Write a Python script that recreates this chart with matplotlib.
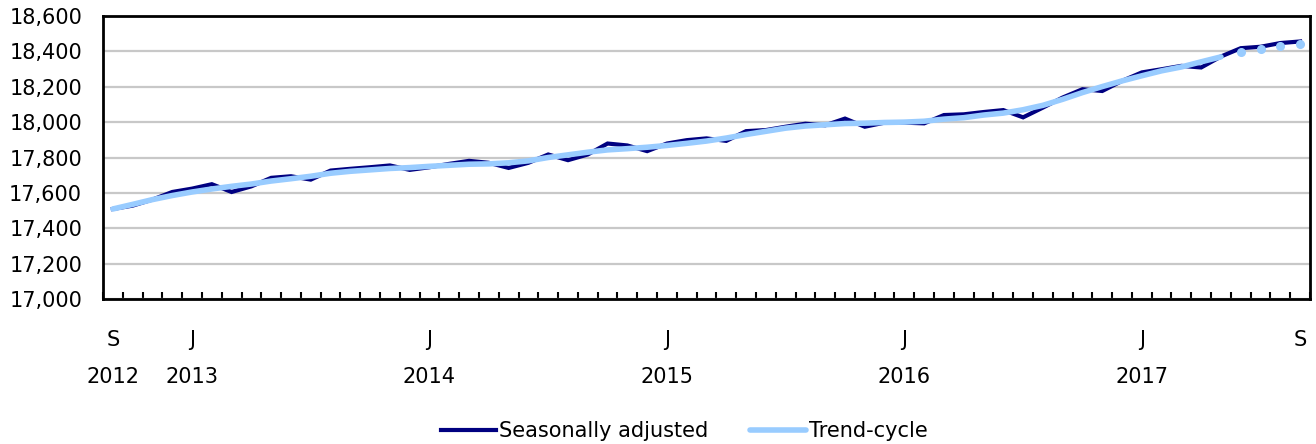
import numpy as np
from matplotlib import pyplot as plt
from matplotlib.transforms import blended_transform_factory

# monthly values, Sep 2012 .. Sep 2017
seasonally_adjusted = [17509, 17528, 17562, 17605, 17624, 17649, 17605, 17637, 17685, 17694,
                       17675, 17726, 17736, 17745, 17755, 17730, 17745, 17764, 17781, 17770,
                       17741, 17770, 17817, 17785, 17817, 17879, 17868, 17836, 17879, 17898,
                       17908, 17894, 17949, 17955, 17974, 17991, 17982, 18020, 17974, 17997,
                       17997, 17993, 18040, 18044, 18057, 18068, 18027, 18082, 18139, 18186,
                       18176, 18233, 18281, 18299, 18318, 18309, 18371, 18418, 18426, 18447,
                       18456]
trend_cycle = [17509, 17535, 17562, 17585, 17605, 17622, 17637, 17650, 17667, 17680,
               17694, 17711, 17722, 17730, 17738, 17743, 17750, 17756, 17762, 17764,
               17770, 17781, 17800, 17815, 17830, 17843, 17850, 17858, 17868, 17880,
               17893, 17910, 17930, 17948, 17966, 17978, 17985, 17992, 17994, 17998,
               18000, 18005, 18017, 18025, 18040, 18051, 18070, 18095, 18129, 18167,
               18201, 18233, 18262, 18290, 18312, 18341, 18369, 18394, 18413, 18432,
               18441]
n_provisional = 4   # last trend points shown as dots only

month_ticks = [0, 4, 16, 28, 40, 52, 60]
month_labels = ['S', 'J', 'J', 'J', 'J', 'J', 'S']
year_labels = ['2012', '2013', '2014', '2015', '2016', '2017', '']

plt.rcParams['font.family'] = ['DejaVu Sans']
plt.rcParams['font.size'] = 15

navy = '#000080'
light = '#99CCFF'

x = np.arange(len(seasonally_adjusted))
n_final = len(trend_cycle) - n_provisional

fig = plt.figure(figsize=(13.16, 4.44), dpi=100)
ax = fig.add_axes([103 / 1316, 1 - 299 / 444, (1310 - 103) / 1316, (299 - 16) / 444])

ax.plot(x, seasonally_adjusted, color=navy, lw=3.0, solid_joinstyle='miter',
        label='Seasonally adjusted', zorder=3)
ax.plot(x[:n_final], trend_cycle[:n_final], color=light, lw=4.0,
        solid_capstyle='round', label='Trend-cycle', zorder=4)
ax.plot(x[n_final:], trend_cycle[n_final:], color=light, ls='none',
        marker='o', ms=5.5, zorder=4)

ax.set_xlim(-0.5, len(x) - 0.5)
ax.set_ylim(17000, 18600)
ax.set_yticks(np.arange(17000, 18601, 200))
ax.set_yticklabels(['{:,}'.format(v) for v in range(17000, 18601, 200)])
ax.yaxis.grid(True, color='#C8C8C8', lw=1.6)
ax.set_axisbelow(True)
ax.tick_params(axis='y', length=0, pad=15)

ax.set_xticks(month_ticks)
ax.set_xticklabels(month_labels)
ax.set_xticks(np.arange(-0.5, len(x) + 0.5, 1), minor=True)
ax.tick_params(axis='x', which='major', length=0, pad=22)
ax.tick_params(axis='x', which='minor', direction='in', length=5, width=1.5, color='black')

for s in ax.spines.values():
    s.set_linewidth(2)
    s.set_color('black')

trans = blended_transform_factory(ax.transData, ax.transAxes)
for pos, yl in zip(month_ticks, year_labels):
    ax.text(pos, -0.277, yl, transform=trans, ha='center', va='center')

fig.legend(loc='center', bbox_to_anchor=(0.52, 0.029), ncol=2, frameon=False,
           handlelength=2.65, handletextpad=0.15, columnspacing=2.0, borderpad=0)

fig.savefig('out.png', dpi=100)
